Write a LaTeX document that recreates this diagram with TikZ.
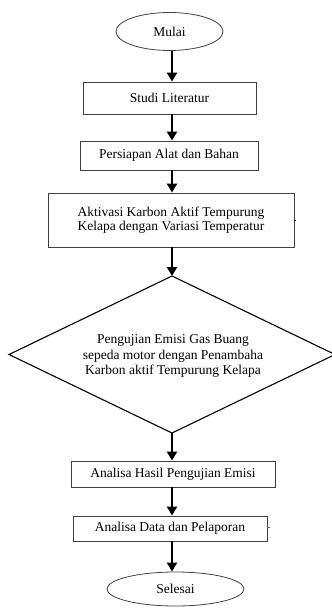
\documentclass[tikz,border=0pt]{standalone}
\usepackage{fontspec}
\setmainfont{Liberation Serif}
\usetikzlibrary{arrows.meta,shapes.geometric}
\tikzset{
  boxstyle/.style={draw=black!75, line width=0.8pt, rectangle, inner sep=0pt, align=center, font=\fontsize{13.5}{14.5}\selectfont},
  ovalstyle/.style={draw=black!75, line width=0.8pt, ellipse, inner sep=0pt, font=\fontsize{13.5}{14.5}\selectfont},
  flowarrow/.style={line width=2pt, -{Triangle[length=9pt,width=10pt]}},
}
\begin{document}
\begin{tikzpicture}[x=1pt,y=-1pt]
\useasboundingbox (0,0) rectangle (332,608);
\coordinate (ax) at (172,0);
\node[ovalstyle, minimum width=107pt, minimum height=38pt] (mulai) at (169.5,31.5) {Mulai};
\node[boxstyle, minimum width=173pt, minimum height=32pt] (b1) at (169.5,98) {Studi Literatur};
\node[boxstyle, minimum width=178pt, minimum height=29pt] (b2) at (169,155.5) {Persiapan Alat dan Bahan};
\node[boxstyle, minimum width=246pt, minimum height=54pt] (b3) at (171,220) {Aktivasi Karbon Aktif Tempurung\\Kelapa dengan Variasi Temperatur};
\coordinate (dtop) at (172,276);
\coordinate (dleft) at (9,354.5);
\coordinate (dright) at (335,354.5);
\coordinate (dbot) at (172,433);
\draw[line width=1.1pt] (dtop) -- (dright) -- (dbot) -- (dleft) -- cycle;
\node[align=center, inner sep=0pt, font=\fontsize{13.5}{15.5}\selectfont] (dtext) at (173,356) {Pengujian Emisi Gas Buang\\sepeda motor dengan Penambaha\\Karbon aktif Tempurung Kelapa};
\node[boxstyle, minimum width=204pt, minimum height=26pt] (b4) at (173,474) {Analisa Hasil Pengujian Emisi};
\node[boxstyle, minimum width=194pt, minimum height=25pt] (b5) at (170,528.5) {Analisa Data dan Pelaporan};
\node[ovalstyle, minimum width=137pt, minimum height=34pt] (selesai) at (175.5,589) {Selesai};
\draw[flowarrow] (mulai.south -| ax) -- (b1.north -| ax);
\draw[flowarrow] (b1.south -| ax) -- (b2.north -| ax);
\draw[flowarrow] (b2.south -| ax) -- (b3.north -| ax);
\draw[flowarrow] (b3.south -| ax) -- (dtop);
\draw[flowarrow] (dbot) -- (b4.north -| ax);
\draw[flowarrow] (b4.south -| ax) -- (b5.north -| ax);
\draw[flowarrow] (b5.south -| ax) -- (selesai.north -| ax);
\coordinate (t1) at (296,220);
\coordinate (t2) at (270,527);
\draw[line width=0.8pt] (b3.east |- t1) -- (t1);
\draw[line width=0.6pt, black!60] (b5.east |- t2) -- (t2);
\end{tikzpicture}
\end{document}
